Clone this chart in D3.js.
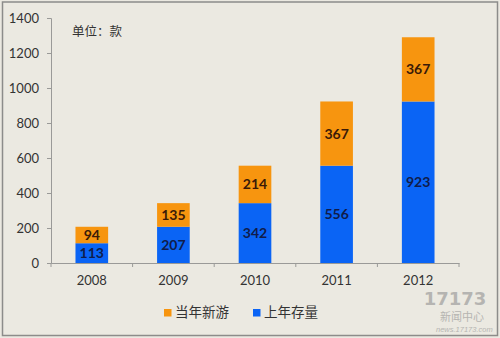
<!DOCTYPE html>
<html><head><meta charset="utf-8">
<script src="https://cdn.jsdelivr.net/npm/d3@7"></script>
<style>
html,body{margin:0;padding:0;background:#ebe9e1;}
svg{display:block;}
</style></head>
<body>
<svg id="chart" width="500" height="338"></svg>
<script>
const years = ["2008","2009","2010","2011","2012"];
const stock = [113, 207, 342, 556, 923];      // 上年存量
const newGames = [94, 135, 214, 367, 367];     // 当年新游
const yTicks = [0, 200, 400, 600, 800, 1000, 1200, 1400];
const seriesNames = ["当年新游", "上年存量"];

const W = 500, H = 338;
const svg = d3.select("#chart");
const numFont = "Lato, 'Open Sans', sans-serif";
const cjkFont = "'Noto Sans CJK SC', sans-serif";

svg.append("rect").attr("x",0).attr("y",0).attr("width",W).attr("height",H).attr("fill","#ebe9e1");
svg.append("rect").attr("x",2.5).attr("y",2).attr("width",495).attr("height",333.5)
  .attr("fill","none").attr("stroke","#8c8c8a").attr("stroke-width",1.5);

const x = d3.scaleBand().domain(years).range([51,459]).paddingInner(0.6).paddingOuter(0.3);
const y = d3.scaleLinear().domain([0,1400]).range([263,18]);

// y axis
const yAxis = svg.append("g").attr("transform","translate(51,0)")
  .call(d3.axisLeft(y).tickValues(yTicks).tickFormat(d3.format("d")).tickSize(4).tickPadding(8));
yAxis.select(".domain").attr("stroke","#9a9a98");
yAxis.selectAll(".tick line").attr("stroke","#9a9a98");
yAxis.selectAll("text").attr("font-family",numFont).attr("font-size",13).attr("fill","#333");

// x axis
const xAxis = svg.append("g").attr("transform","translate(0,263)")
  .call(d3.axisBottom(x).tickSize(0).tickPadding(13));
xAxis.select(".domain").attr("stroke","#9a9a98");
xAxis.selectAll("text").attr("font-family",numFont).attr("font-size",13).attr("fill","#333");
const step = x.step();
const boundaries = d3.range(years.length+1).map(i => 51 + i*step);
svg.append("g").selectAll("line").data(boundaries).join("line")
  .attr("x1",d=>d).attr("x2",d=>d).attr("y1",263).attr("y2",267)
  .attr("stroke","#9a9a98");

const blue = "#0a64f5", orange = "#f7950f";

// bars
const g = svg.append("g");
years.forEach((yr,i) => {
  const s = stock[i], n = newGames[i];
  g.append("rect").attr("x",x(yr)).attr("width",x.bandwidth())
    .attr("y",y(s)).attr("height",y(0)-y(s)).attr("fill",blue);
  g.append("rect").attr("x",x(yr)).attr("width",x.bandwidth())
    .attr("y",y(s+n)).attr("height",y(s)-y(s+n)).attr("fill",orange);
  g.append("text").attr("x",x(yr)+x.bandwidth()/2).attr("y",(y(0)+y(s))/2)
    .attr("dy","0.36em").attr("text-anchor","middle")
    .attr("font-family",numFont).attr("font-weight","bold").attr("font-size",14)
    .attr("fill","#101c4a").text(s);
  g.append("text").attr("x",x(yr)+x.bandwidth()/2).attr("y",(y(s)+y(s+n))/2)
    .attr("dy","0.36em").attr("text-anchor","middle")
    .attr("font-family",numFont).attr("font-weight","bold").attr("font-size",14)
    .attr("fill","#3a1a08").text(n);
});

// unit label
svg.append("text").attr("x",72).attr("y",36).attr("font-family",cjkFont)
  .attr("font-size",12.5).attr("fill","#333").text("单位：款");

// legend
const legend = [{name:seriesNames[0], c:orange, x:164}, {name:seriesNames[1], c:blue, x:253}];
const lg = svg.append("g");
legend.forEach(l => {
  lg.append("rect").attr("x",l.x).attr("y",309).attr("width",7.5).attr("height",7.5).attr("fill",l.c);
  lg.append("text").attr("x",l.x+11).attr("y",316.5).attr("font-family",cjkFont)
    .attr("font-size",13.5).attr("fill","#333").text(l.name);
});

// watermark
const wm = svg.append("g").attr("opacity",0.55);
wm.append("text").attr("x",455).attr("y",305).attr("text-anchor","middle")
  .attr("font-family","'DejaVu Sans', sans-serif").attr("font-weight","bold")
  .attr("font-size",18).attr("fill","#8a8a8a").text("17173");
wm.append("text").attr("x",440).attr("y",321).attr("font-family",cjkFont)
  .attr("font-size",11).attr("fill","#8a8a8a").text("新闻中心");
wm.append("text").attr("x",436).attr("y",332).attr("font-family","'Liberation Sans', sans-serif")
  .attr("font-size",7.5).attr("font-style","italic").attr("fill","#8a8a8a").text("news.17173.com");
</script>
</body></html>
